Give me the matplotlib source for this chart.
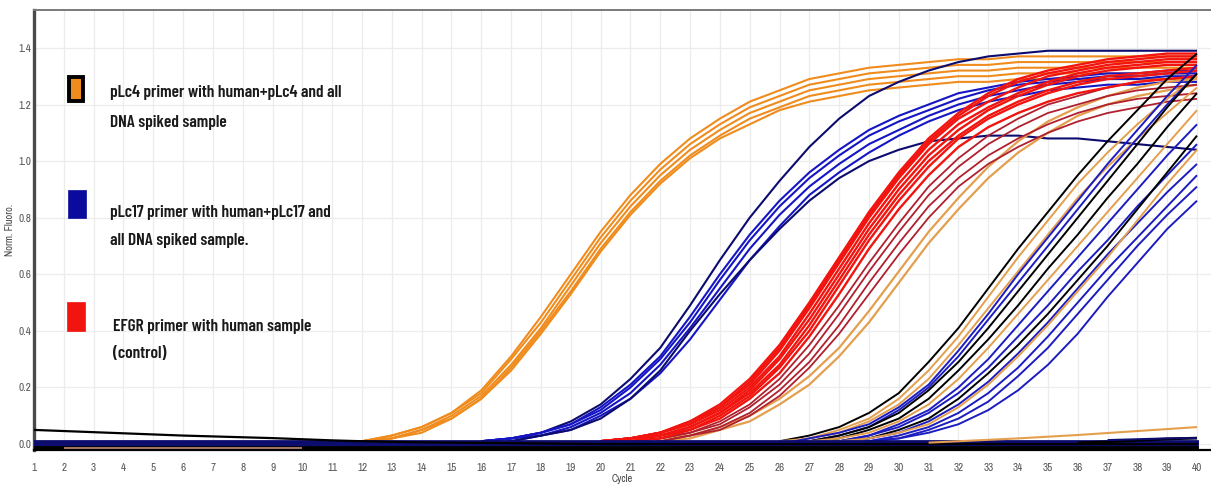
import numpy as np
import matplotlib
matplotlib.use("Agg")
import matplotlib.pyplot as plt
from matplotlib.patches import Rectangle

# cycles of the run
cycles = list(range(1, 41))

# pLc4 primer, early wells (values from cycle 12 to 40)
orange_early_start = 12
orange_early = [
    [0.01, 0.03, 0.06, 0.11, 0.19, 0.31, 0.45, 0.60, 0.75, 0.88, 0.99, 1.08, 1.15, 1.21, 1.25, 1.29, 1.31, 1.33, 1.34, 1.35, 1.36, 1.36, 1.37, 1.37, 1.37, 1.37, 1.37, 1.37, 1.37],
    [0.01, 0.03, 0.06, 0.11, 0.18, 0.30, 0.43, 0.58, 0.73, 0.86, 0.97, 1.06, 1.13, 1.19, 1.23, 1.27, 1.29, 1.31, 1.32, 1.33, 1.34, 1.34, 1.35, 1.35, 1.35, 1.35, 1.35, 1.35, 1.35],
    [0.01, 0.02, 0.05, 0.10, 0.17, 0.28, 0.41, 0.56, 0.71, 0.84, 0.95, 1.04, 1.11, 1.17, 1.21, 1.25, 1.27, 1.29, 1.30, 1.31, 1.32, 1.32, 1.33, 1.33, 1.33, 1.33, 1.33, 1.33, 1.33],
    [0.01, 0.02, 0.05, 0.09, 0.16, 0.27, 0.40, 0.54, 0.69, 0.82, 0.93, 1.02, 1.09, 1.15, 1.19, 1.23, 1.25, 1.27, 1.28, 1.29, 1.30, 1.30, 1.31, 1.31, 1.31, 1.31, 1.31, 1.31, 1.31],
    [0.01, 0.02, 0.04, 0.09, 0.16, 0.26, 0.39, 0.53, 0.68, 0.81, 0.92, 1.01, 1.08, 1.13, 1.18, 1.21, 1.23, 1.25, 1.26, 1.27, 1.28, 1.28, 1.29, 1.29, 1.29, 1.29, 1.29, 1.29, 1.29],
]

# pLc17 primer, early wells (values from cycle 16 to 40)
blue_mid_start = 16
blue_mid = [
    [0.01, 0.02, 0.04, 0.08, 0.14, 0.23, 0.34, 0.49, 0.65, 0.80, 0.93, 1.05, 1.15, 1.23, 1.28, 1.32, 1.35, 1.37, 1.38, 1.39, 1.39, 1.39, 1.39, 1.39, 1.39],
    [0.01, 0.02, 0.04, 0.07, 0.13, 0.21, 0.31, 0.45, 0.60, 0.74, 0.86, 0.96, 1.04, 1.11, 1.16, 1.20, 1.24, 1.26, 1.28, 1.29, 1.30, 1.31, 1.31, 1.32, 1.32],
    [0.01, 0.02, 0.04, 0.07, 0.12, 0.20, 0.30, 0.43, 0.58, 0.72, 0.84, 0.94, 1.02, 1.09, 1.14, 1.18, 1.22, 1.25, 1.27, 1.28, 1.29, 1.30, 1.30, 1.31, 1.31],
    [0.01, 0.02, 0.03, 0.06, 0.11, 0.18, 0.28, 0.41, 0.55, 0.69, 0.81, 0.91, 0.99, 1.06, 1.11, 1.16, 1.20, 1.23, 1.25, 1.27, 1.28, 1.29, 1.29, 1.30, 1.30],
    [0.00, 0.01, 0.03, 0.05, 0.10, 0.16, 0.25, 0.37, 0.51, 0.65, 0.77, 0.88, 0.96, 1.03, 1.09, 1.14, 1.18, 1.21, 1.23, 1.25, 1.26, 1.27, 1.27, 1.28, 1.28],
    [0.00, 0.01, 0.03, 0.05, 0.09, 0.16, 0.26, 0.40, 0.53, 0.65, 0.76, 0.86, 0.94, 1.00, 1.04, 1.07, 1.08, 1.09, 1.09, 1.08, 1.08, 1.07, 1.06, 1.05, 1.04],
]

# EFGR control (values from cycle 20 to 40)
red_start = 20
red_bright = [
    [0.01, 0.02, 0.04, 0.08, 0.14, 0.23, 0.35, 0.50, 0.66, 0.82, 0.96, 1.08, 1.17, 1.24, 1.29, 1.32, 1.34, 1.36, 1.37, 1.38, 1.38],
    [0.01, 0.02, 0.04, 0.08, 0.13, 0.22, 0.34, 0.49, 0.65, 0.81, 0.95, 1.07, 1.16, 1.23, 1.28, 1.31, 1.33, 1.35, 1.36, 1.37, 1.37],
    [0.01, 0.02, 0.04, 0.07, 0.13, 0.21, 0.33, 0.48, 0.64, 0.80, 0.94, 1.06, 1.15, 1.21, 1.26, 1.30, 1.32, 1.34, 1.35, 1.36, 1.36],
    [0.01, 0.02, 0.04, 0.07, 0.12, 0.20, 0.31, 0.46, 0.62, 0.78, 0.92, 1.04, 1.13, 1.19, 1.24, 1.28, 1.31, 1.33, 1.34, 1.35, 1.35],
    [0.01, 0.02, 0.03, 0.06, 0.11, 0.19, 0.30, 0.44, 0.60, 0.76, 0.90, 1.02, 1.11, 1.18, 1.23, 1.27, 1.30, 1.32, 1.33, 1.34, 1.34],
    [0.01, 0.02, 0.03, 0.06, 0.11, 0.18, 0.28, 0.42, 0.58, 0.74, 0.88, 1.00, 1.09, 1.16, 1.21, 1.25, 1.28, 1.30, 1.31, 1.32, 1.33],
    [0.00, 0.01, 0.03, 0.05, 0.10, 0.17, 0.27, 0.40, 0.56, 0.72, 0.86, 0.98, 1.08, 1.15, 1.20, 1.24, 1.27, 1.29, 1.30, 1.31, 1.32],
    [0.00, 0.01, 0.02, 0.05, 0.09, 0.16, 0.25, 0.38, 0.53, 0.69, 0.83, 0.95, 1.05, 1.12, 1.17, 1.21, 1.24, 1.26, 1.28, 1.29, 1.30],
]
red_dark = [
    [0.00, 0.01, 0.02, 0.04, 0.08, 0.14, 0.23, 0.35, 0.49, 0.64, 0.78, 0.91, 1.01, 1.09, 1.15, 1.20, 1.23, 1.26, 1.28, 1.29, 1.30],
    [0.00, 0.01, 0.02, 0.04, 0.07, 0.13, 0.21, 0.32, 0.46, 0.61, 0.75, 0.88, 0.98, 1.06, 1.12, 1.17, 1.20, 1.23, 1.25, 1.26, 1.27],
    [0.00, 0.00, 0.01, 0.03, 0.06, 0.11, 0.19, 0.29, 0.42, 0.57, 0.71, 0.84, 0.94, 1.02, 1.08, 1.13, 1.17, 1.20, 1.22, 1.23, 1.24],
    [0.00, 0.00, 0.01, 0.03, 0.05, 0.10, 0.17, 0.27, 0.39, 0.53, 0.67, 0.80, 0.91, 0.99, 1.05, 1.10, 1.14, 1.17, 1.19, 1.21, 1.22],
]

# pLc4 primer, middle wells (values from cycle 21 to 40)
orange_mid_start = 21
orange_mid = [
    [0.01, 0.02, 0.03, 0.06, 0.10, 0.16, 0.24, 0.34, 0.47, 0.61, 0.75, 0.87, 0.98, 1.07, 1.14, 1.19, 1.23, 1.26, 1.28, 1.29],
    [0.00, 0.01, 0.02, 0.05, 0.08, 0.14, 0.21, 0.31, 0.43, 0.57, 0.71, 0.83, 0.94, 1.03, 1.10, 1.16, 1.20, 1.23, 1.25, 1.27],
]

# late wells, all primers (values from cycle 26 to 40)
late_start = 26
late_kind = ["black", "orange", "orange", "blue", "blue", "black", "black", "orange",
             "blue", "blue", "black", "blue", "orange", "blue", "blue", "blue"]
late = [
    [0.01, 0.03, 0.06, 0.11, 0.18, 0.29, 0.41, 0.55, 0.69, 0.82, 0.95, 1.07, 1.18, 1.29, 1.38],
    [0.01, 0.02, 0.05, 0.09, 0.16, 0.26, 0.38, 0.52, 0.66, 0.79, 0.92, 1.03, 1.13, 1.22, 1.30],
    [0.00, 0.02, 0.04, 0.08, 0.14, 0.23, 0.35, 0.48, 0.61, 0.74, 0.87, 0.98, 1.08, 1.17, 1.26],
    [0.00, 0.02, 0.04, 0.07, 0.13, 0.21, 0.33, 0.46, 0.60, 0.73, 0.86, 0.99, 1.11, 1.23, 1.34],
    [0.00, 0.01, 0.03, 0.06, 0.12, 0.20, 0.31, 0.44, 0.57, 0.70, 0.83, 0.96, 1.08, 1.20, 1.31],
    [0.00, 0.01, 0.03, 0.06, 0.11, 0.19, 0.29, 0.41, 0.54, 0.67, 0.80, 0.93, 1.06, 1.19, 1.31],
    [0.00, 0.01, 0.02, 0.05, 0.09, 0.16, 0.26, 0.37, 0.49, 0.62, 0.74, 0.87, 0.99, 1.12, 1.24],
    [0.00, 0.01, 0.02, 0.04, 0.08, 0.14, 0.23, 0.34, 0.46, 0.58, 0.70, 0.82, 0.94, 1.06, 1.18],
    [0.00, 0.00, 0.01, 0.03, 0.07, 0.12, 0.20, 0.30, 0.42, 0.54, 0.66, 0.78, 0.90, 1.02, 1.13],
    [0.00, 0.00, 0.01, 0.03, 0.06, 0.11, 0.18, 0.27, 0.38, 0.49, 0.61, 0.72, 0.84, 0.95, 1.06],
    [0.00, 0.00, 0.01, 0.02, 0.05, 0.09, 0.16, 0.25, 0.35, 0.46, 0.58, 0.70, 0.83, 0.96, 1.09],
    [0.00, 0.00, 0.01, 0.02, 0.04, 0.08, 0.14, 0.22, 0.32, 0.43, 0.55, 0.67, 0.78, 0.89, 0.99],
    [0.00, 0.00, 0.01, 0.02, 0.04, 0.07, 0.13, 0.21, 0.31, 0.42, 0.54, 0.66, 0.79, 0.92, 1.04],
    [0.00, 0.00, 0.00, 0.01, 0.03, 0.06, 0.11, 0.18, 0.27, 0.38, 0.50, 0.62, 0.73, 0.84, 0.95],
    [0.00, 0.00, 0.00, 0.01, 0.02, 0.05, 0.09, 0.15, 0.24, 0.34, 0.46, 0.58, 0.70, 0.81, 0.91],
    [0.00, 0.00, 0.00, 0.01, 0.02, 0.04, 0.07, 0.12, 0.19, 0.28, 0.39, 0.52, 0.64, 0.76, 0.86],
]

# non-amplifying wells
black_drift = [0.050, 0.046, 0.042, 0.038, 0.034, 0.030, 0.027, 0.024, 0.021, 0.017,
               0.013, 0.010, 0.008, 0.006, 0.005, 0.004, 0.003, 0.002, 0.001, 0.000,
               0.000, 0.000, 0.000, 0.000, 0.000, 0.000, 0.000, 0.000, 0.000, 0.000,
               0.000, 0.000, 0.000, 0.000, 0.000, 0.000, 0.000, 0.000, 0.000, 0.000]
navy_levels = [0.012, 0.007, 0.002, -0.003]
black_levels = [-0.009, -0.015]
pink_start = 2
pink_flat = [-0.013, -0.013, -0.013, -0.013, -0.013, -0.013, -0.013, -0.013, -0.013]
orange_slow_start = 31
orange_slow = [0.005, 0.010, 0.015, 0.020, 0.026, 0.032, 0.039, 0.046, 0.053, 0.060]
black_tail_start = 36
black_tail = [0.004, 0.008, 0.013, 0.018, 0.021]
navy_tail_start = 37
navy_tail = [0.014, 0.017, 0.020, 0.021]

yticks = [0.0, 0.2, 0.4, 0.6, 0.8, 1.0, 1.2, 1.4]
legend_lines = [
    ["pLc4 primer with human+pLc4 and all", "DNA spiked sample"],
    ["pLc17 primer with human+pLc17 and", "all DNA spiked sample."],
    ["EFGR primer with human sample", "(control)"],
]

# ---- drawing ----
W, H = 1211, 486
tick_font = ["Archivo Narrow", "DejaVu Sans"]
label_font = ["Barlow Condensed", "DejaVu Sans"]
ORANGE = "#EF8C1D"
TAN = "#E39F4E"
BLUE = "#1515C4"
NAVY = "#0C0C6E"
RED = "#F2140F"
DARKRED = "#B0202E"
kind_color = {"black": "#000000", "orange": TAN, "blue": "#1C1CC0"}

fig = plt.figure(figsize=(W / 100, H / 100), dpi=100)
ax = fig.add_axes([34 / W, 1 - 450 / H, (W - 34) / W, 440 / H])


def draw(start, rows, color, lw=1.5, z=2):
    for row in rows:
        xs = cycles[start - 1:start - 1 + len(row)]
        ax.plot(xs, row, color=color, lw=lw, zorder=z, solid_capstyle="butt")


draw(orange_early_start, orange_early, ORANGE)
draw(blue_mid_start, blue_mid[:1], NAVY)
draw(blue_mid_start, blue_mid[1:5], BLUE)
draw(blue_mid_start, blue_mid[5:], NAVY)
draw(orange_mid_start, orange_mid, TAN, lw=1.6)
draw(red_start, red_dark, DARKRED, lw=1.3)
draw(red_start, red_bright, RED, lw=1.7)
for kind, row in zip(late_kind, late):
    draw(late_start, [row], kind_color[kind], lw=1.4, z=3)

# baseline band
for lev in navy_levels:
    ax.plot(cycles, [lev] * len(cycles), color=NAVY, lw=2.0, zorder=4)
for lev in black_levels:
    ax.plot(cycles, [lev] * len(cycles), color="#000000", lw=2.0, zorder=4)
draw(pink_start, [pink_flat], "#C08A78", lw=1.2, z=5)
ax.plot(cycles, black_drift, color="#000000", lw=1.6, zorder=5)
draw(orange_slow_start, [orange_slow], TAN, lw=1.5, z=5)
draw(black_tail_start, [black_tail], "#000000", lw=2.0, z=5)
draw(navy_tail_start, [navy_tail], NAVY, lw=1.5, z=5)

# axes styling
x_right = cycles[-1] + (W - 1197) / ((1197 - 34) / (cycles[-1] - cycles[0]))
ax.set_xlim(cycles[0], x_right)
ax.set_ylim(-0.021, 1.534)
ax.set_xticks(cycles)
ax.set_yticks(yticks)
ax.set_yticklabels([f"{v:.1f}" for v in yticks])
ax.grid(True, color="#ECECEC", lw=0.9, zorder=0)
ax.set_axisbelow(True)
ax.tick_params(axis="both", length=0, labelsize=8, colors="#555555")
ax.tick_params(axis="x", pad=9)
ax.tick_params(axis="y", pad=2)
for lab in ax.get_xticklabels() + ax.get_yticklabels():
    lab.set_family(tick_font)

ax.spines["right"].set_visible(False)
ax.spines["left"].set_color("#4A4A4A")
ax.spines["left"].set_linewidth(2.4)
ax.spines["top"].set_color("#7A7A7A")
ax.spines["top"].set_linewidth(1.4)
ax.spines["bottom"].set_color("#000000")
ax.spines["bottom"].set_linewidth(1.6)

ax.set_xlabel("Cycle", fontsize=7.5, color="#444444", family=tick_font)
ax.xaxis.set_label_coords(0.5, (450 - 474) / 440)
ax.set_ylabel("Norm. Fluoro.", fontsize=7.5, color="#444444", family=tick_font)
ax.yaxis.set_label_coords((15 - 34) / (W - 34), 0.5)

# legend boxes and texts (pixel positions of the reference)
boxes = [(69, 77, 14, 24, ORANGE, "#000000", 2.8),
         (68, 190, 18, 28, "#0A0A9C", "#0A0A9C", 0.5),
         (67, 302, 18, 29, RED, RED, 0.5)]
for bx, by, bw, bh, fc, ec, lw in boxes:
    fig.add_artist(Rectangle((bx / W, 1 - (by + bh) / H), bw / W, bh / H,
                             transform=fig.transFigure, fc=fc, ec=ec, lw=lw,
                             joinstyle="miter"))
text_pos = [(110, 93, 122), (110, 213, 240), (113, 327, 353)]
for (tx, y1, y2), lines in zip(text_pos, legend_lines):
    for ty, line in zip((y1, y2), lines):
        fig.text(tx / W, 1 - ty / H, line, ha="left", va="center",
                 fontsize=12.5, fontweight="semibold", color="#1A1A1A",
                 family=label_font)

fig.savefig("out.png", dpi=100)
